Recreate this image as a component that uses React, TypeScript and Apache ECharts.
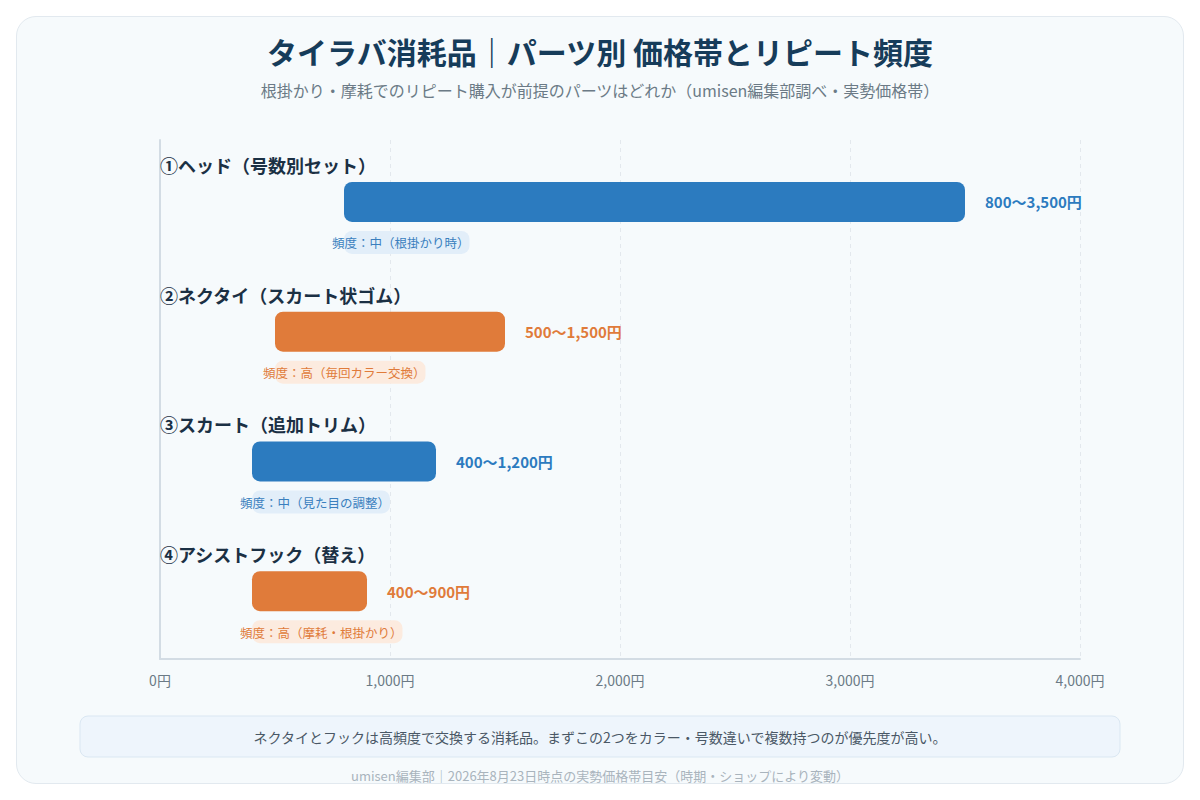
import { useEffect, useRef } from 'react'
import * as echarts from 'echarts'

const PARTS = [
  '①ヘッド（号数別セット）',
  '②ネクタイ（スカート状ゴム）',
  '③スカート（追加トリム）',
  '④アシストフック（替え）',
]
const PRICE_LOW = [800, 500, 400, 400]
const PRICE_HIGH = [3500, 1500, 1200, 900]
const FREQ_LABELS = [
  '頻度：中（根掛かり時）',
  '頻度：高（毎回カラー交換）',
  '頻度：中（見た目の調整）',
  '頻度：高（摩耗・根掛かり）',
]
const FREQ_LEVEL = ['中', '高', '中', '高']

const FONT = '"Noto Sans CJK JP", "Noto Sans", sans-serif'

const PALETTE: Record<string, { bar: string; pill: string; text: string }> = {
  中: { bar: '#2c7bbf', pill: '#e2eef9', text: '#3a7fbe' },
  高: { bar: '#e07b3a', pill: '#fcebdf', text: '#e07b3a' },
}

const fmt = (v: number) => v.toLocaleString('en-US')

let measureCtx: CanvasRenderingContext2D | null = null
function textWidth(text: string, font: string) {
  if (!measureCtx) measureCtx = document.createElement('canvas').getContext('2d')
  if (!measureCtx) return text.length * 12
  measureCtx.font = font
  return measureCtx.measureText(text).width
}

export default function App() {
  const chartRef = useRef<HTMLDivElement>(null)

  useEffect(() => {
    if (!chartRef.current) return
    const chart = echarts.init(chartRef.current, undefined, { renderer: 'svg' })

    const data = PARTS.map((_, i) => [PRICE_LOW[i], PRICE_HIGH[i], i])

    const option: echarts.EChartsOption = {
      animation: false,
      backgroundColor: 'transparent',
      title: [
        {
          text: 'タイラバ消耗品｜パーツ別 価格帯とリピート頻度',
          left: 'center',
          top: 14,
          textStyle: { fontFamily: FONT, fontSize: 30, fontWeight: 'bold', color: '#163c5a' },
        },
        {
          text: '根掛かり・摩耗でのリピート購入が前提のパーツはどれか（umisen編集部調べ・実勢価格帯）',
          left: 'center',
          top: 60,
          textStyle: { fontFamily: FONT, fontSize: 16, fontWeight: 'normal', color: '#6b7a86' },
        },
      ],
      grid: { left: 143, right: 103, top: 123, bottom: 124 },
      xAxis: {
        type: 'value',
        min: 0,
        max: 4000,
        interval: 1000,
        axisLine: { show: true, lineStyle: { color: '#d3dce4', width: 2 } },
        axisTick: { show: false },
        axisLabel: {
          margin: 14,
          fontFamily: FONT,
          fontSize: 14,
          color: '#6b7a86',
          formatter: (v: number) => `${fmt(v)}円`,
        },
        splitLine: { show: true, lineStyle: { color: '#e3e8ed', type: [4, 4], width: 1 } },
      },
      yAxis: {
        type: 'category',
        inverse: true,
        data: PARTS,
        axisLine: { show: true, lineStyle: { color: '#d3dce4', width: 2 } },
        axisTick: { show: false },
        axisLabel: { show: false },
        splitLine: { show: false },
      },
      series: [
        {
          type: 'custom',
          encode: { x: [0, 1], y: 2 },
          data,
          renderItem: (params: any, api: any) => {
            const i = api.value(2)
            const lo = api.value(0)
            const hi = api.value(1)
            const start = api.coord([lo, i])
            const end = api.coord([hi, i])
            const left = api.coord([0, i])[0]
            const cy = start[1]
            const pal = PALETTE[FREQ_LEVEL[i]]
            const barCy = cy - 3
            const pillFont = `12.5px ${FONT}`
            const tw = textWidth(FREQ_LABELS[i], pillFont)
            return {
              type: 'group',
              children: [
                {
                  type: 'text',
                  x: left,
                  y: cy - 40,
                  style: {
                    text: PARTS[i],
                    fontFamily: FONT,
                    fontSize: 18,
                    fontWeight: 'bold',
                    fill: '#1b3044',
                    verticalAlign: 'middle',
                    align: 'left',
                  },
                },
                {
                  type: 'rect',
                  shape: { x: start[0], y: barCy - 20, width: end[0] - start[0], height: 40, r: 8 },
                  style: { fill: pal.bar },
                },
                {
                  type: 'text',
                  x: end[0] + 20,
                  y: barCy,
                  style: {
                    text: `${fmt(lo)}〜${fmt(hi)}円`,
                    fontFamily: FONT,
                    fontSize: 15,
                    fontWeight: 'bold',
                    fill: pal.bar,
                    verticalAlign: 'middle',
                    align: 'left',
                  },
                },
                {
                  type: 'rect',
                  shape: { x: start[0], y: cy + 26, width: tw - 12, height: 23, r: 8 },
                  style: { fill: pal.pill },
                },
                {
                  type: 'text',
                  x: start[0] - 12,
                  y: cy + 38,
                  style: {
                    text: FREQ_LABELS[i],
                    fontFamily: FONT,
                    fontSize: 12.5,
                    fill: pal.text,
                    verticalAlign: 'middle',
                    align: 'left',
                  },
                },
              ],
            }
          },
        },
      ],
      graphic: [
        {
          type: 'rect',
          shape: { x: 63, y: 699, width: 1040, height: 41, r: 8 },
          style: { fill: '#eef5fc', stroke: '#dae7f2', lineWidth: 1 },
        },
        {
          type: 'text',
          x: 583,
          y: 720,
          style: {
            text: 'ネクタイとフックは高頻度で交換する消耗品。まずこの2つをカラー・号数違いで複数持つのが優先度が高い。',
            fontFamily: FONT,
            fontSize: 14,
            fill: '#4a5866',
            align: 'center',
            verticalAlign: 'middle',
          },
        },
        {
          type: 'text',
          x: 583,
          y: 758,
          style: {
            text: 'umisen編集部｜2026年8月23日時点の実勢価格帯目安（時期・ショップにより変動）',
            fontFamily: FONT,
            fontSize: 13,
            fill: '#a9b4bd',
            align: 'center',
            verticalAlign: 'middle',
          },
        },
      ],
    }

    chart.setOption(option)
    return () => chart.dispose()
  }, [])

  return (
    <div
      style={{
        position: 'fixed',
        left: 0,
        top: 0,
        width: 1200,
        height: 800,
        background: '#ffffff',
      }}
    >
      <div
        style={{
          position: 'absolute',
          left: 16,
          top: 16,
          width: 1168,
          height: 768,
          boxSizing: 'border-box',
          border: '1px solid #e2e9ef',
          borderRadius: 20,
          background: '#f6fafc',
          overflow: 'hidden',
        }}
      >
        <div ref={chartRef} style={{ width: 1166, height: 766 }} />
      </div>
    </div>
  )
}
